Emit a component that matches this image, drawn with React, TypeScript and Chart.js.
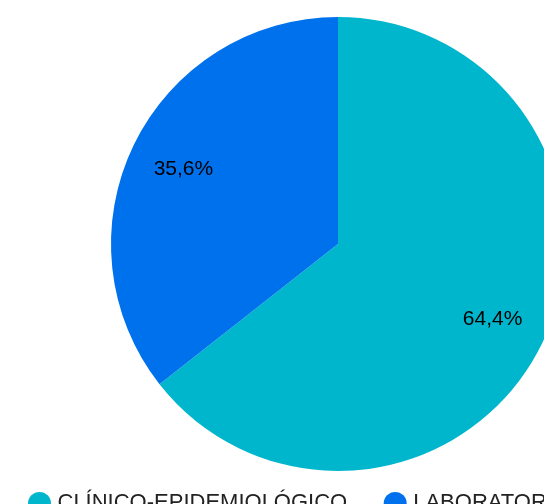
import React, { useEffect, useRef } from "react";
import { Chart, registerables } from "chart.js";

Chart.register(...registerables);

const categories = ["CLÍNICO-EPIDEMIOLÓGICO", "LABORATORIAL"];
const values = [64.4, 35.6];
const colors = ["#00b6cc", "#0071ec"];

const FONT = '"Liberation Sans", Arial, Helvetica, sans-serif';

const percentLabels = {
  id: "percentLabels",
  afterDatasetsDraw(chart: any) {
    const ctx = chart.ctx;
    const meta = chart.getDatasetMeta(0);
    const data = chart.data.datasets[0].data as number[];
    const total = data.reduce((a, b) => a + b, 0);
    ctx.save();
    ctx.font = `21px ${FONT}`;
    ctx.fillStyle = "#000000";
    ctx.textAlign = "center";
    ctx.textBaseline = "middle";
    meta.data.forEach((arc: any, i: number) => {
      const p = arc.getProps(["x", "y", "startAngle", "endAngle", "outerRadius"], true);
      const mid = (p.startAngle + p.endAngle) / 2;
      const d = p.outerRadius * 0.757;
      const txt = ((data[i] / total) * 100).toFixed(1).replace(".", ",") + "%";
      ctx.fillText(txt, p.x + Math.cos(mid) * d, p.y + Math.sin(mid) * d);
    });
    ctx.restore();
  },
};

const bottomLegend = {
  id: "bottomLegend",
  afterDraw(chart: any) {
    const ctx = chart.ctx;
    const area = chart.chartArea;
    const labels = chart.data.labels as string[];
    const bg = chart.data.datasets[0].backgroundColor as string[];
    const baseY = area.bottom + 32.5;
    const markerY = area.bottom + 32.5;
    const radius = 11.5;
    const gapMarkerText = 18;
    const gapItems = 48;
    let x = 39.5;
    ctx.save();
    ctx.font = `22px ${FONT}`;
    ctx.textAlign = "left";
    ctx.textBaseline = "middle";
    labels.forEach((lab, i) => {
      ctx.beginPath();
      ctx.fillStyle = bg[i];
      ctx.arc(x, markerY, radius, 0, Math.PI * 2);
      ctx.fill();
      ctx.fillStyle = "#222222";
      const tx = x + gapMarkerText;
      ctx.fillText(lab, tx, baseY - 1);
      const w = ctx.measureText(lab).width;
      x = tx + w + gapItems;
    });
    ctx.restore();
  },
};

export default function App() {
  const ref = useRef<HTMLCanvasElement | null>(null);
  useEffect(() => {
    if (!ref.current) return;
    const chart = new Chart(ref.current, {
      type: "pie",
      data: {
        labels: categories,
        datasets: [
          {
            data: values,
            backgroundColor: colors,
            borderWidth: 0,
          },
        ],
      },
      options: {
        responsive: false,
        animation: false,
        devicePixelRatio: 1,
        layout: { padding: { top: 17, bottom: 33, left: 0, right: 0 } },
        plugins: {
          legend: { display: false },
          tooltip: { enabled: false },
        },
      },
      plugins: [percentLabels, bottomLegend],
    });
    return () => chart.destroy();
  }, []);
  return (
    <div
      style={{
        position: "fixed",
        left: 0,
        top: 0,
        width: 544,
        height: 504,
        overflow: "hidden",
        background: "#ffffff",
      }}
    >
      <canvas
        ref={ref}
        width={676}
        height={504}
        style={{ position: "absolute", left: 0, top: 0, width: 676, height: 504 }}
      />
    </div>
  );
}
